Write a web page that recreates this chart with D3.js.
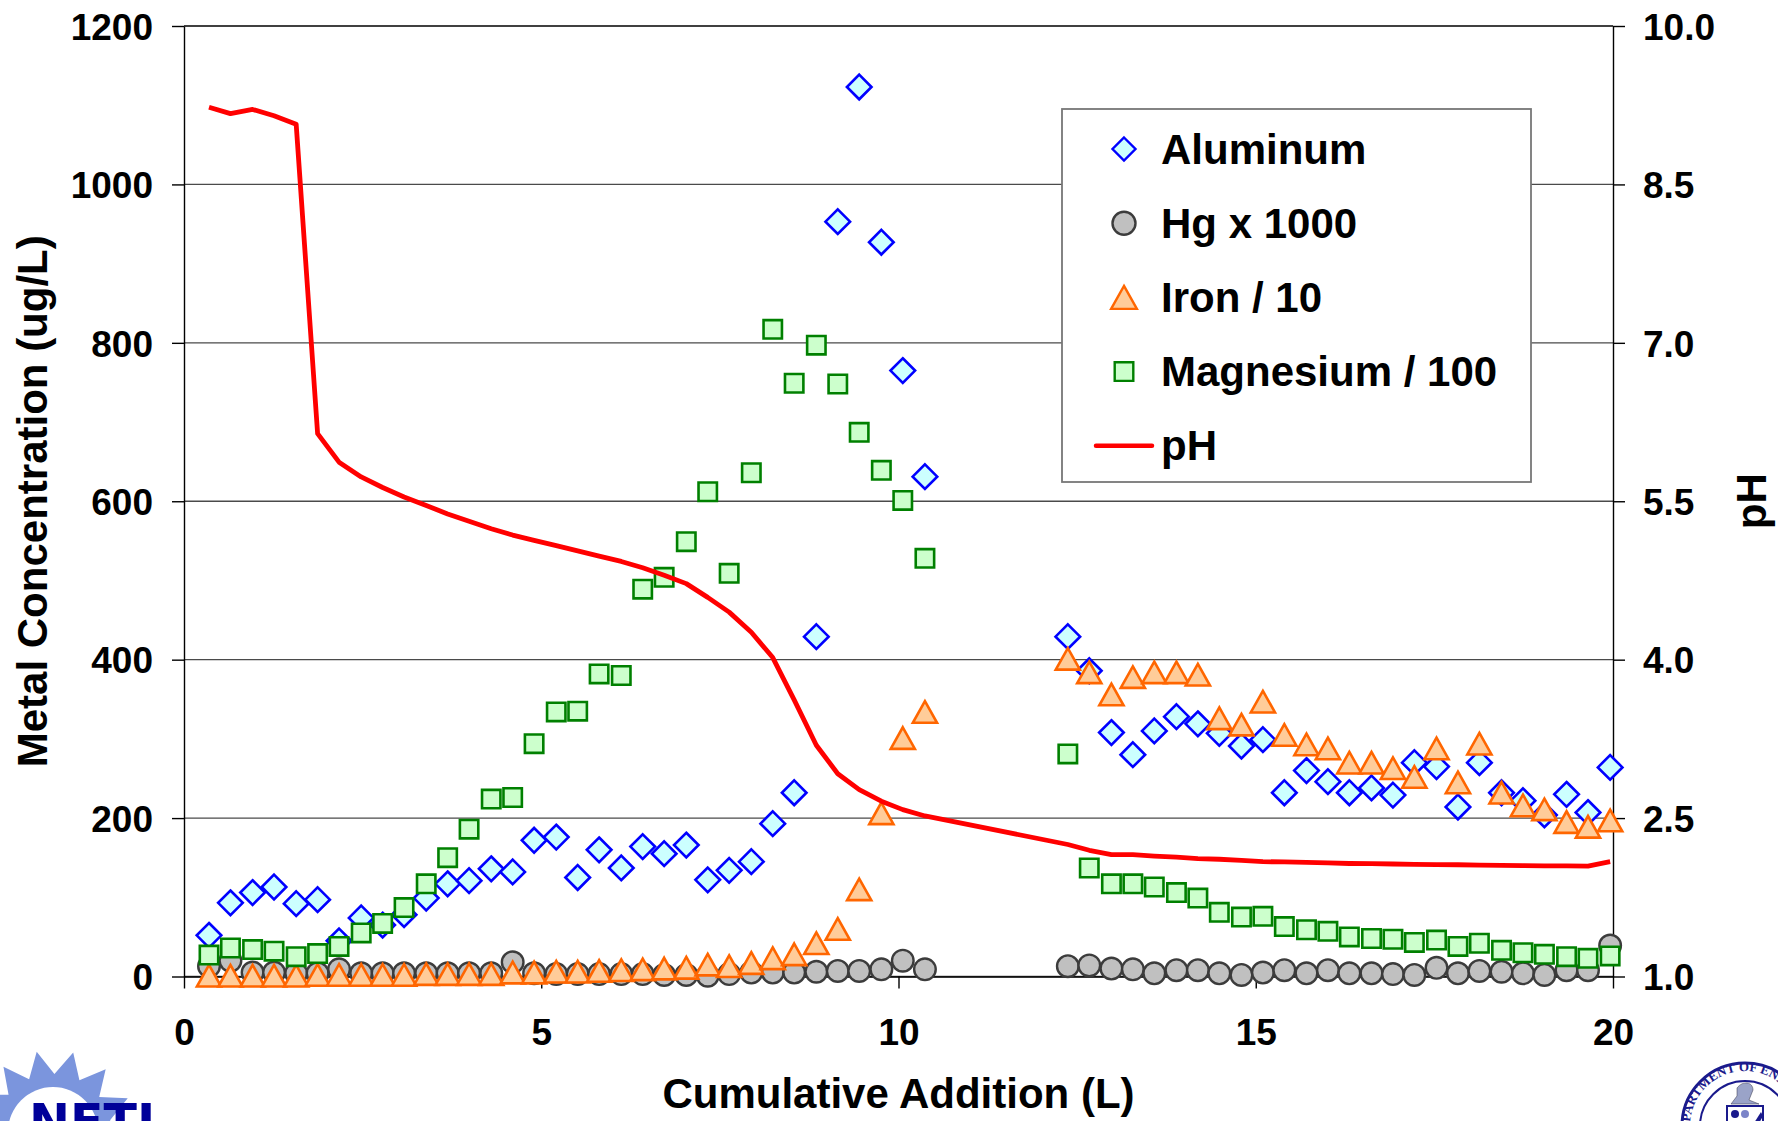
<!DOCTYPE html>
<html>
<head>
<meta charset="utf-8">
<script src="https://cdn.jsdelivr.net/npm/d3@7/dist/d3.min.js"></script>
<style>
  html, body { margin: 0; padding: 0; background: #fff; }
  svg { display: block; }
  text { font-family: "Liberation Sans", Arial, sans-serif; font-weight: bold; }
</style>
</head>
<body>
<svg id="chart" width="1778" height="1121"></svg>
<script>
// cumulative addition (L) for each sample
const addition = [0.35, 0.65, 0.96, 1.26, 1.57, 1.87, 2.17, 2.48, 2.78, 3.08, 3.39, 3.69, 3.99, 4.30, 4.60, 4.90, 5.21, 5.51, 5.81, 6.12, 6.42, 6.72, 7.03, 7.33, 7.63, 7.94, 8.24, 8.54, 8.85, 9.15, 9.45, 9.76, 10.06, 10.37,
  12.37, 12.67, 12.98, 13.28, 13.58, 13.89, 14.19, 14.49, 14.80, 15.10, 15.40, 15.71, 16.01, 16.31, 16.62, 16.92, 17.22, 17.53, 17.83, 18.13, 18.44, 18.74, 19.04, 19.35, 19.65, 19.96];

const aluminum = [52, 93, 106, 113, 92, 97, 45, 74, 65, 78, 99, 117, 121, 136, 132, 172, 176, 125, 160, 137, 164, 155, 166, 122, 134, 145, 193, 232, 429, 953, 1123, 927, 765, 631,
  429, 386, 308, 280, 310, 328, 319, 307, 291, 299, 232, 260, 246, 232, 238, 229, 270, 265, 214, 270, 232, 222, 204, 230, 207, 264];

const hgX1000 = [13, 20, 5, 5, 4, 4, 9, 4, 4, 4, 4, 4, 4, 4, 18, 4, 3, 3, 3, 3, 3, 2, 2, 1, 3, 5, 5, 5, 6, 7, 7, 9, 20, 9,
  13, 14, 10, 9, 4, 8, 8, 4, 2, 5, 8, 4, 8, 4, 4, 3, 2, 11, 4, 7, 6, 4, 2, 8, 8, 39];

const ironDiv10 = [1, 1, 1, 1, 1, 2, 2, 2, 2, 2, 3, 3, 3, 3, 5, 5, 6, 6, 7, 8, 9, 10, 11, 15, 13, 17, 23, 28, 42, 60, 110, 206, 301, 334,
  401, 384, 356, 378, 384, 384, 381, 326, 318, 347, 305, 293, 288, 270, 270, 263, 252, 288, 245, 294, 232, 216, 211, 195, 189, 197];

const magnesiumDiv100 = [27, 36, 34, 32, 25, 29, 38, 55, 67, 87, 117, 150, 186, 224, 226, 294, 334, 335, 382, 380, 489, 504, 549, 612, 509, 636, 817, 749, 797, 748, 687, 639, 601, 528,
  281, 137, 117, 117, 113, 106, 99, 81, 75, 76, 63, 59, 57, 50, 48, 47, 43, 46, 38, 42, 33, 30, 28, 25, 23, 26];

const ph = [9.23, 9.17, 9.21, 9.15, 9.07, 6.14, 5.87, 5.73, 5.63, 5.54, 5.46, 5.38, 5.31, 5.24, 5.18, 5.13, 5.08, 5.03, 4.98, 4.93, 4.87, 4.80, 4.72, 4.59, 4.45, 4.26, 4.02, 3.62, 3.19, 2.92, 2.77, 2.66, 2.58, 2.52,
  2.25, 2.195, 2.154, 2.154, 2.14, 2.13, 2.116, 2.11, 2.10, 2.087, 2.085, 2.08, 2.075, 2.07, 2.068, 2.065, 2.062, 2.06, 2.058, 2.055, 2.053, 2.05, 2.048, 2.047, 2.046, 2.087];

const concTicks = [0, 200, 400, 600, 800, 1000, 1200];
const phTicks = [1.0, 2.5, 4.0, 5.5, 7.0, 8.5, 10.0];
const xTicks = [0, 5, 10, 15, 20];

const legendNames = ["Aluminum", "Hg x 1000", "Iron / 10", "Magnesium / 100", "pH"];

(function draw() {
  const svg = d3.select("#chart");
  const left = 184, right = 1613, top = 26, bottom = 976.5;

  const x = d3.scaleLinear().domain([0, 20]).range([left, right]);
  const y = d3.scaleLinear().domain([0, 1200]).range([bottom, top]);
  const yPh = d3.scaleLinear().domain([1, 10]).range([bottom, top]);

  // marker shapes
  const shapes = {
    diamond: h => `M0,${-h}L${h},0L0,${h}L${-h},0Z`,
    square: h => `M${-h},${-h}H${h}V${h}H${-h}Z`,
    triangle: h => `M0,${-h}L${h * 1.12},${h}L${-h * 1.12},${h}Z`,
    circle: h => `M${-h},0A${h},${h} 0 1,0 ${h},0A${h},${h} 0 1,0 ${-h},0Z`,
  };

  const series = [
    { name: legendNames[0], values: aluminum, shape: "diamond", size: 12.3, fill: "#ccffff", stroke: "#0000ff", sw: 2.6 },
    { name: legendNames[1], values: hgX1000, shape: "circle", size: 10.8, fill: "#c0c0c0", stroke: "#3c3c3c", sw: 2.4 },
    { name: legendNames[2], values: ironDiv10, shape: "triangle", size: 10.8, fill: "#ffcc99", stroke: "#ff6600", sw: 2.6 },
    { name: legendNames[3], values: magnesiumDiv100, shape: "square", size: 9.2, fill: "#ccffcc", stroke: "#008000", sw: 2.6 },
  ];

  // gridlines
  svg.append("g")
    .selectAll("line")
    .data(concTicks)
    .join("line")
    .attr("x1", left)
    .attr("x2", right)
    .attr("y1", d => y(d))
    .attr("y2", d => y(d))
    .attr("stroke", d => (d === 1200 ? "#000" : "#4a4a4a"))
    .attr("stroke-width", 1.3);

  const styleAxis = (g, size) => {
    g.select(".domain").attr("stroke", "#000").attr("stroke-width", 1.4);
    g.selectAll(".tick line").attr("stroke", "#000").attr("stroke-width", 1.4);
    g.selectAll(".tick text")
      .attr("fill", "#000")
      .style("font-family", "'Liberation Sans', Arial, sans-serif")
      .style("font-weight", "bold")
      .style("font-size", size + "px");
  };

  svg.append("g")
    .attr("transform", `translate(${left},0)`)
    .call(d3.axisLeft(y).tickValues(concTicks).tickFormat(d3.format("d")).tickSize(12).tickSizeOuter(0).tickPadding(19))
    .call(g => styleAxis(g, 37))
    .call(g => g.selectAll(".tick text").attr("dy", "0.36em"));

  svg.append("g")
    .attr("transform", `translate(${right},0)`)
    .call(d3.axisRight(yPh).tickValues(phTicks).tickFormat(d3.format(".1f")).tickSize(12).tickSizeOuter(0).tickPadding(18))
    .call(g => styleAxis(g, 37))
    .call(g => g.selectAll(".tick text").attr("dy", "0.36em"));

  svg.append("g")
    .attr("transform", `translate(0,${bottom})`)
    .call(d3.axisBottom(x).tickValues(xTicks).tickSize(12).tickSizeOuter(0).tickPadding(30))
    .call(g => styleAxis(g, 37));

  // axis titles
  svg.append("text")
    .attr("x", (left + right) / 2)
    .attr("y", 1108)
    .attr("text-anchor", "middle")
    .style("font-size", "42px")
    .text("Cumulative Addition (L)");

  svg.append("text")
    .attr("transform", `translate(47,${(top + bottom) / 2}) rotate(-90)`)
    .attr("text-anchor", "middle")
    .style("font-size", "42px")
    .text("Metal Concentration (ug/L)");

  svg.append("text")
    .attr("transform", `translate(1766,${(top + bottom) / 2}) rotate(-90)`)
    .attr("text-anchor", "middle")
    .style("font-size", "42px")
    .text("pH");

  // scatter series
  series.forEach(s => {
    svg.append("g")
      .selectAll("path")
      .data(s.values.map((v, i) => ({ x: addition[i], v })))
      .join("path")
      .attr("transform", d => `translate(${x(d.x)},${y(d.v)})`)
      .attr("d", shapes[s.shape](s.size))
      .attr("fill", s.fill)
      .attr("stroke", s.stroke)
      .attr("stroke-width", s.sw);
  });

  // pH line
  const line = d3.line()
    .x((d, i) => x(addition[i]))
    .y(d => yPh(d));
  svg.append("path")
    .datum(ph)
    .attr("d", line)
    .attr("fill", "none")
    .attr("stroke", "#ff0000")
    .attr("stroke-width", 4.8)
    .attr("stroke-linejoin", "round");

  // legend
  const lg = svg.append("g");
  lg.append("rect")
    .attr("x", 1062).attr("y", 109)
    .attr("width", 469).attr("height", 373)
    .attr("fill", "#fff")
    .attr("stroke", "#777")
    .attr("stroke-width", 1.8);

  const rowY = i => 149 + i * 74.2;
  series.forEach((s, i) => {
    lg.append("path")
      .attr("transform", `translate(1124,${rowY(i)})`)
      .attr("d", shapes[s.shape](s.shape === "square" ? 9.3 : 11.5))
      .attr("fill", s.fill)
      .attr("stroke", s.stroke)
      .attr("stroke-width", 2.4);
  });
  lg.append("line")
    .attr("x1", 1096).attr("x2", 1152)
    .attr("y1", rowY(4)).attr("y2", rowY(4))
    .attr("stroke", "#ff0000")
    .attr("stroke-width", 4.5)
    .attr("stroke-linecap", "round");
  lg.selectAll("text.lbl")
    .data(legendNames)
    .join("text")
    .attr("class", "lbl")
    .attr("x", 1161)
    .attr("y", (d, i) => rowY(i) + 14.5)
    .style("font-size", "42px")
    .text(d => d);

  // NETL logo (bottom left, cropped by the page edge as in the source slide)
  const netl = svg.append("g");
  const cx = 53, cy = 1132, nSpikes = 14;
  const pts = [];
  for (let k = 0; k < nSpikes * 2; k++) {
    const a = (k / (nSpikes * 2)) * Math.PI * 2 - Math.PI / 2 - 0.2;
    const r = k % 2 === 0 ? 82 : 58;
    pts.push([cx + r * Math.cos(a), cy + r * Math.sin(a)]);
  }
  netl.append("polygon").attr("points", pts.map(p => p.join(",")).join(" ")).attr("fill", "#7b95dd");
  netl.append("circle").attr("cx", cx).attr("cy", cy).attr("r", 45).attr("fill", "#fff");
  netl.append("text")
    .attr("x", 29).attr("y", 1139)
    .attr("fill", "#000099")
    .style("font-size", "49px")
    .style("font-family", "'DejaVu Sans', sans-serif")
    .text("NETL");

  // DOE seal (bottom right, cropped)
  const doe = svg.append("g").attr("transform", "translate(1745,1126)");
  doe.append("circle").attr("r", 63).attr("fill", "#fff").attr("stroke", "#1a1a8c").attr("stroke-width", 3);
  doe.append("circle").attr("r", 45).attr("fill", "none").attr("stroke", "#1a1a8c").attr("stroke-width", 2);
  doe.append("path").attr("id", "sealArc").attr("d", "M-52,18A55,55 0 1,1 52,18").attr("fill", "none");
  doe.append("text")
    .attr("fill", "#1a1a8c")
    .style("font-size", "13px")
    .style("font-family", "'Liberation Serif', serif")
    .append("textPath")
    .attr("href", "#sealArc")
    .attr("startOffset", "2%")
    .text("DEPARTMENT OF ENERGY");
  doe.append("path")
    .attr("d", "M-8,-38 C-2,-46 8,-44 8,-36 L4,-26 L14,-22 L-14,-22 L-8,-30Z")
    .attr("fill", "#9aa3c8").attr("stroke", "#334").attr("stroke-width", 0.5);
  doe.append("rect").attr("x", -18).attr("y", -20).attr("width", 36).attr("height", 40).attr("fill", "#fff").attr("stroke", "#1a1a8c").attr("stroke-width", 2);
  doe.append("circle").attr("cx", -10).attr("cy", -12).attr("r", 4).attr("fill", "#1a1a8c");
  doe.append("circle").attr("cx", 0).attr("cy", -12).attr("r", 4).attr("fill", "#7b84c8");
  doe.append("path").attr("d", "M2,8L16,-14L18,-10L6,12Z").attr("fill", "#1a1a8c");
})();
</script>
</body>
</html>
